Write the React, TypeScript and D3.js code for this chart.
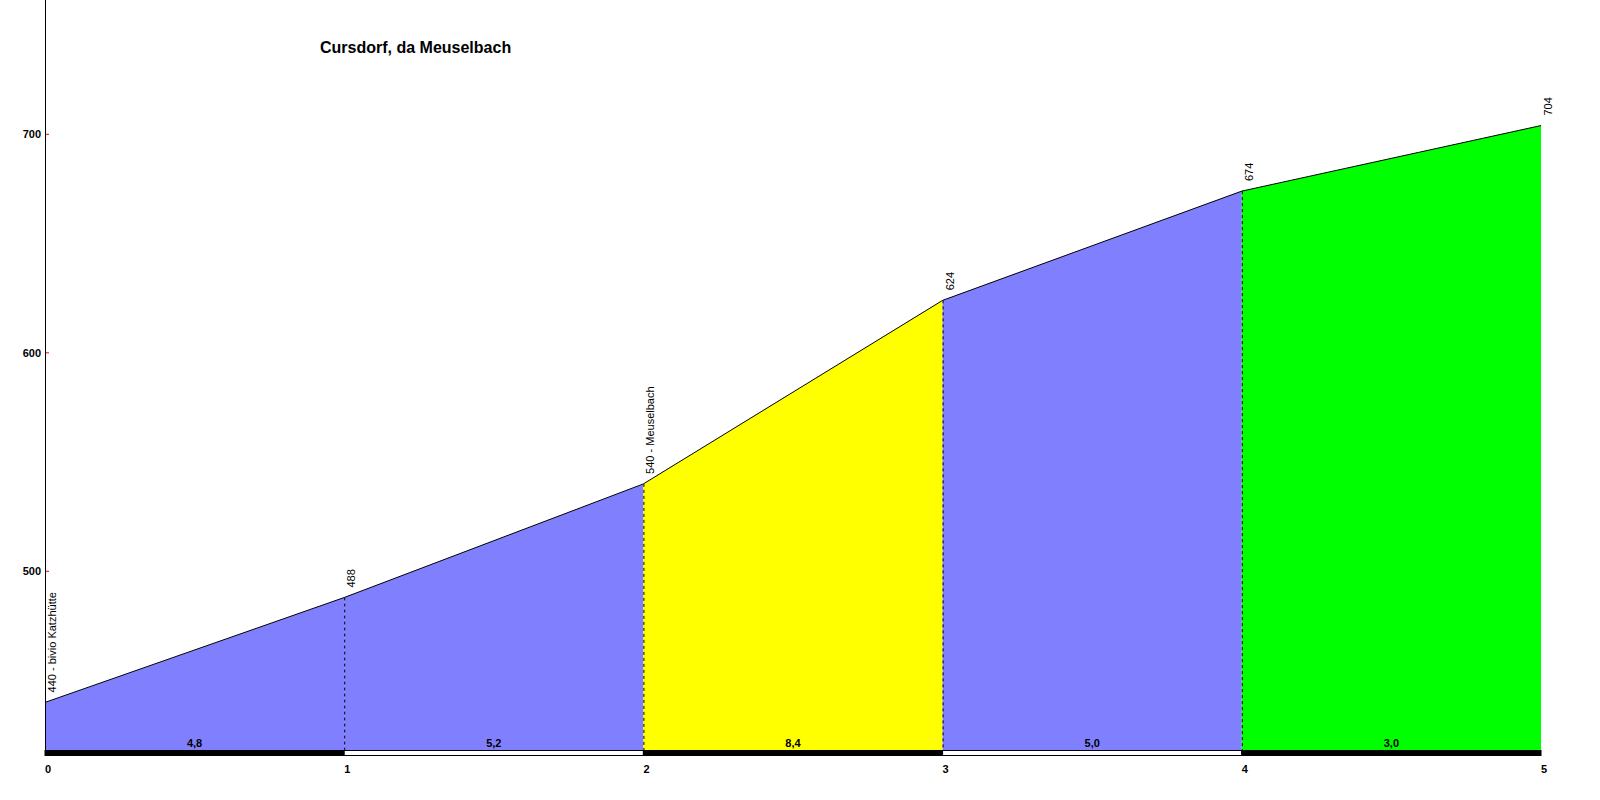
import React from "react";
import * as d3 from "d3";

const title = "Cursdorf, da Meuselbach";
const km = [0, 1, 2, 3, 4, 5];
const elevations = [440, 488, 540, 624, 674, 704];
const pointLabels = ["440 - bivio Katzhütte", "488", "540 - Meuselbach", "624", "674", "704"];
const gradients = ["4,8", "5,2", "8,4", "5,0", "3,0"];
const segmentColors = ["#8080FF", "#8080FF", "#FFFF00", "#8080FF", "#00FF00"];
const yTicks = [500, 600, 700];
const xTicks = [0, 1, 2, 3, 4, 5];

const W = 1600;
const H = 800;
const FONT = "Liberation Sans, Arial, sans-serif";

export default function App() {
  const x = d3.scaleLinear().domain([0, 5]).range([45, 1541]);
  const y = d3.scaleLinear().domain([500, 700]).range([571.3, 134.3]);
  const baseY = 750;
  const barH = 6;

  const pts = km.map((k, i) => [x(k), y(elevations[i])] as [number, number]);
  const area = d3
    .area<[number, number]>()
    .x((d) => d[0])
    .y0(baseY)
    .y1((d) => d[1]);
  const line = d3.line<[number, number]>().x((d) => d[0]).y((d) => d[1]);

  return (
    <svg
      width={W}
      height={H}
      style={{ position: "absolute", left: 0, top: 0, background: "#fff" }}
      fontFamily={FONT}
    >
      <rect x={0} y={0} width={W} height={H} fill="#fff" />
      {gradients.map((g, i) => (
        <path key={"a" + i} d={area([pts[i], pts[i + 1]]) || ""} fill={segmentColors[i]} stroke="none" />
      ))}
      <path d={line(pts) || ""} fill="none" stroke="#000" strokeWidth={1} />
      {km.slice(1, -1).map((k, i) => (
        <line
          key={"v" + k}
          x1={x(k) + 0.5}
          x2={x(k) + 0.5}
          y1={y(elevations[i + 1])}
          y2={baseY}
          stroke="#000"
          strokeWidth={1}
          strokeDasharray="3,3"
        />
      ))}
      {gradients.map((g, i) => (
        <rect
          key={"b" + i}
          x={x(km[i])}
          y={baseY + 0.5}
          width={x(km[i + 1]) - x(km[i])}
          height={barH - 1}
          fill={i % 2 === 0 ? "#000" : "#fff"}
          stroke="#000"
          strokeWidth={1}
        />
      ))}
      {gradients.map((g, i) => (
        <text
          key={"g" + i}
          x={(x(km[i]) + x(km[i + 1])) / 2}
          y={baseY - 3}
          textAnchor="middle"
          fontSize={11}
          fontWeight="bold"
          fill="#000"
        >
          {g}
        </text>
      ))}
      {pointLabels.map((l, i) => {
        const px = x(km[i]) + 7;
        const py = y(elevations[i]) - 10;
        return (
          <text
            key={"p" + i}
            transform={`translate(${px + 4},${py}) rotate(-90)`}
            fontSize={11}
            fill="#000"
          >
            {l}
          </text>
        );
      })}
      <line x1={45.5} x2={45.5} y1={0} y2={baseY + barH} stroke="#000" strokeWidth={1} />
      {yTicks.map((t) => (
        <g key={"yt" + t}>
          <line x1={46} x2={49} y1={y(t)} y2={y(t)} stroke="#ff0000" strokeWidth={1} />
          <text x={41} y={y(t) + 4} textAnchor="end" fontSize={11} fontWeight="bold" fill="#000">
            {t}
          </text>
        </g>
      ))}
      {xTicks.map((t) => (
        <text key={"xt" + t} x={x(t)} y={773} fontSize={11} fontWeight="bold" fill="#000">
          {t}
        </text>
      ))}
      <text x={320} y={53} fontSize={16} fontWeight="bold" fill="#000">
        {title}
      </text>
    </svg>
  );
}
